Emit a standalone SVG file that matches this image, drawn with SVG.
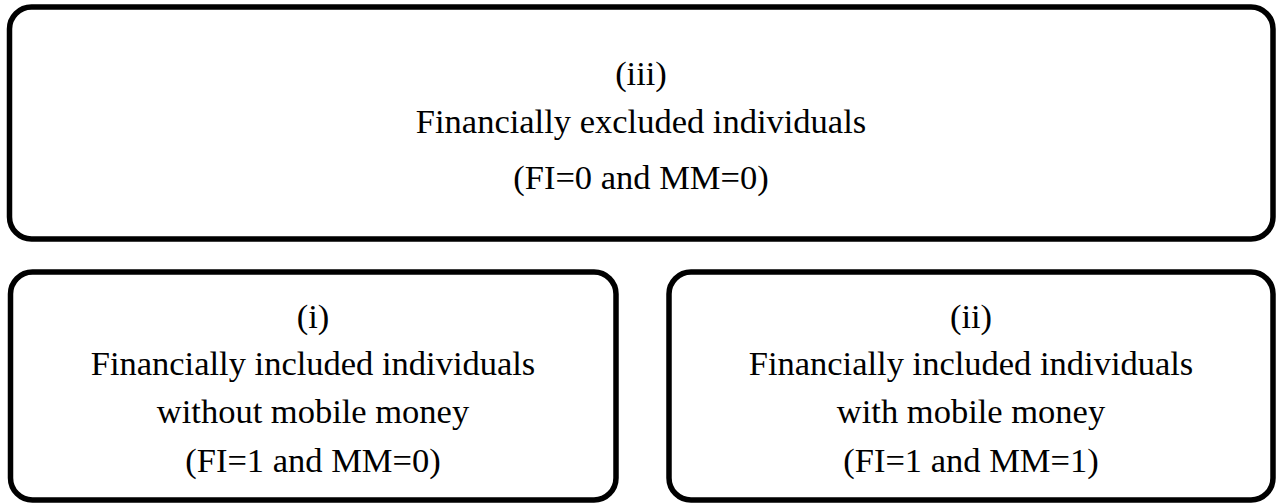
<svg xmlns="http://www.w3.org/2000/svg" width="1277" height="504" viewBox="0 0 1277 504">
<style>
.box{fill:#fff;stroke:#000;stroke-width:5.5}
.t{font-family:"Liberation Serif","Times New Roman",serif;font-size:34.5px;fill:#000;text-anchor:middle}
</style>
<rect width="1277" height="504" fill="#fff"/>
<g id="connectors"></g>
<g id="node-iii">
<rect class="box" x="9.5" y="7" width="1263.5" height="232" rx="22" ry="22"/>
<text class="t" x="641" y="85">(iii)</text>
<text class="t" x="641" y="133">Financially excluded individuals</text>
<text class="t" x="641" y="189">(FI=0 and MM=0)</text>
</g>
<g id="node-i">
<rect class="box" x="10.5" y="272" width="605.5" height="228" rx="22" ry="22"/>
<text class="t" x="313" y="328">(i)</text>
<text class="t" x="313" y="375">Financially included individuals</text>
<text class="t" x="313" y="423">without mobile money</text>
<text class="t" x="313" y="472">(FI=1 and MM=0)</text>
</g>
<g id="node-ii">
<rect class="box" x="669" y="272" width="604" height="228" rx="22" ry="22"/>
<text class="t" x="971" y="328">(ii)</text>
<text class="t" x="971" y="375">Financially included individuals</text>
<text class="t" x="971" y="423">with mobile money</text>
<text class="t" x="971" y="472">(FI=1 and MM=1)</text>
</g>
</svg>
